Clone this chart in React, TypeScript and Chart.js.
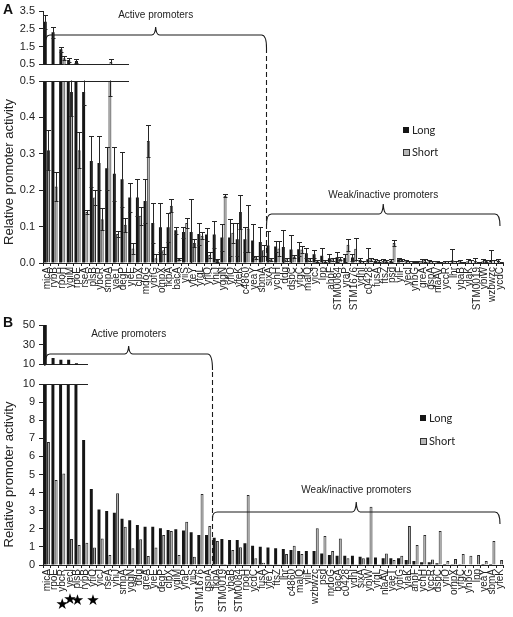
import React, { useEffect, useRef } from 'react';
import { Chart, registerables } from 'chart.js';

Chart.register(...registerables);

const FONT = "'Liberation Sans', Arial, sans-serif";
const TEXT = '#222222';
const AXIS = '#222222';
const BLACK = '#151515';
const GREY = '#a9a9a9';

// ---------------- Panel A data ----------------
const categoriesA = [
  'micA', 'rybB', 'rpoH', 'ygiM', 'rpoE', 'rseA', 'plsB', 'ybcR', 'smpA', 'yaeT',
  'degP', 'yieE', 'clpX', 'mdoG', 'ybfG', 'ompX', 'fkpA', 'bacA', 'yiiS', 'yfeY',
  'yfgL', 'yfiO', 'yhiJ', 'yggN', 'yfiO', 'yfeK', 'c4860', 'yeaY', 'sbmA', 'sixA',
  'ychH', 'ddg', 'dsbC', 'yfgC', 'malQ', 'yicJ', 'lpp', 'ahpF', 'STM0084', 'yraP',
  'STM1676', 'ydhI', 'c0428', 'fusA', 'ftsZ', 'psd', 'yliF', 'yecI', 'yhbG', 'greA',
  'gspA', 'nlaAV', 'yccR', 'lhr', 'ybaB', 'ylaK', 'STM0019', 'ybiW', 'wzbwzc', 'ycdC',
];
const longA = [
  2.9, 2.3, 1.35, 0.75, 0.69, 0.47, 0.28, 0.275, 0.26, 0.245,
  0.23, 0.18, 0.18, 0.17, 0.11, 0.098, 0.098, 0.09, 0.085, 0.085,
  0.08, 0.078, 0.078, 0.07, 0.07, 0.065, 0.065, 0.062, 0.058, 0.048,
  0.045, 0.044, 0.037, 0.038, 0.027, 0.024, 0.02, 0.013, 0.016, 0.014,
  0.015, 0.008, 0.01, 0.006, 0.005, 0.006, 0.01, 0.004, 0.004, 0.005,
  0.004, 0.003, 0.003, 0.007, 0.004, 0.004, 0.005, 0.004, 0.008, 0.006,
];
const longErrA = [
  0.4, 0.3, 0.15, 0.12, 0.1, 0.035, 0.07, 0.075, 0.06, 0.075,
  0.075, 0.04, 0.05, 0.06, 0.055, 0.068, 0.04, 0.01, 0.015, 0.09,
  0.03, 0.017, 0.037, 0.038, 0.05, 0.045, 0.035, 0.045, 0.04, 0.04,
  0.015, 0.046, 0.041, 0.019, 0.013, 0.011, 0.02, 0.012, 0.014, 0.01,
  0.01, 0.007, 0.03, 0.004, 0.005, 0.004, 0.005, 0.003, 0.002, 0.005,
  0.004, 0.002, 0.002, 0.031, 0.005, 0.006, 0.01, 0.006, 0.028, 0.005,
];
const shortA = [
  0.31, 0.21, 0.85, 0.47, 0.31, 0.14, 0.18, 0.12, 0.64, 0.08,
  0.105, 0.04, 0.13, 0.335, 0.013, 0.035, 0.157, 0.012, 0.11, 0.055,
  0.075, 0.022, 0.008, 0.185, 0.083, 0.14, 0.095, 0.015, 0.035, 0.01,
  0.04, 0.01, 0.018, 0.037, 0.01, 0.005, 0.005, 0.01, 0.012, 0.05,
  0.039, 0.003, 0.01, 0.005, 0.005, 0.055, 0.008, 0.003, 0.004, 0.008,
  0.003, 0.002, 0.003, 0.003, 0.002, 0.004, 0.002, 0.006, 0.004, 0.002,
];
const shortErrA = [
  0.055, 0.04, 0.1, 0.065, 0.05, 0.005, 0.02, 0.03, 0.18, 0.008,
  0.02, 0.015, 0.025, 0.045, 0.012, 0.01, 0.018, 0.003, 0.015, 0.012,
  0.01, 0.008, 0.004, 0.005, 0.028, 0.047, 0.065, 0.005, 0.015, 0.005,
  0.02, 0.005, 0.005, 0.01, 0.005, 0.003, 0.003, 0.005, 0.005, 0.017,
  0.03, 0.002, 0.005, 0.003, 0.002, 0.009, 0.003, 0.002, 0.002, 0.004,
  0.002, 0.002, 0.002, 0.002, 0.002, 0.003, 0.002, 0.003, 0.003, 0.002,
];
const ticksAMain = [0, 0.1, 0.2, 0.3, 0.4, 0.5];
const ticksAInset = [0.5, 1.5, 2.5, 3.5];
const activeCountA = 29;

// ---------------- Panel B data ----------------
const categoriesB = [
  'micA', 'rpoE', 'ybcR', 'yecI', 'plsB', 'rybB', 'yfiO', 'yicJ', 'rseA', 'yhiJ',
  'smpA', 'yggN', 'ddg', 'greA', 'yieE', 'degP', 'clpX', 'ygiM', 'yraP', 'yiiS',
  'STM1676', 'gspA', 'fkpA', 'STM0019', 'ybaB', 'STM0084', 'rpoH', 'ycdC', 'fusA', 'yfeY',
  'ftsZ', 'lhr', 'c4860', 'malQ', 'yliF', 'wzbwzc', 'psd', 'mdoG', 'bacA', 'c0428',
  'ydhI', 'sixA', 'ybiW', 'yfgL', 'nlaAV', 'yaeT', 'ybfG', 'ylaK', 'ahpF', 'ychH',
  'yccR', 'dsbC', 'yfiO', 'ompX', 'yfgC', 'yhbG', 'lpp', 'yeaY', 'sbmA', 'yfeK',
];
const longB = [
  50, 16.5, 14.8, 14.8, 11.2, 6.9, 4.2, 3.07, 2.98, 2.88,
  2.56, 2.47, 2.21, 2.12, 2.12, 2.03, 1.93, 1.97, 1.9, 1.81,
  1.66, 1.66, 1.51, 1.44, 1.38, 1.38, 1.2, 1.07, 1.01, 0.97,
  0.92, 0.88, 0.83, 0.77, 0.77, 0.77, 0.64, 0.55, 0.51, 0.51,
  0.51, 0.46, 0.42, 0.42, 0.37, 0.37, 0.37, 0.28, 0.22, 0.15,
  0.15, 0.09, 0.05, 0.04, 0.04, 0.03, 0.03, 0.05, 0.05, 0.03,
];
const shortB = [
  6.8, 4.7, 5.05, 1.43, 1.1, 1.23, 0.97, 1.47, 0.55, 3.96,
  2.12, 0.92, 1.42, 0.5, 0.96, 1.66, 1.88, 0.55, 2.39, 0.46,
  3.92, 2.15, 1.33, 0.05, 0.83, 0.98, 3.87, 0.37, 0.13, 0.02,
  0.02, 0.61, 1.07, 0.61, 0.02, 2.03, 1.6, 0.77, 1.47, 0.37,
  0.02, 0.37, 3.22, 0.02, 0.64, 0.28, 0.51, 2.15, 1.1, 1.66,
  0.31, 1.88, 0.22, 0.33, 0.61, 0.51, 0.55, 0.22, 1.33, 0.28,
];
const ticksBMain = [0, 1, 2, 3, 4, 5, 6, 7, 8, 9, 10];
const ticksBInset = [10, 30, 50];
const activeCountB = 22;
const starredB = [2, 3, 4, 6];

const yTitle = 'Relative promoter activity';
const legendLabels = ['Long', 'Short'];

// ---------------- plugins ----------------
const errorBarPlugin = {
  id: 'errbars',
  afterDatasetsDraw(chart: any) {
    const { ctx, chartArea } = chart;
    const y = chart.scales.y;
    ctx.save();
    ctx.beginPath();
    ctx.rect(chartArea.left, chartArea.top - 0.5, chartArea.right - chartArea.left, chartArea.bottom - chartArea.top + 1);
    ctx.clip();
    ctx.strokeStyle = '#262626';
    ctx.lineWidth = 1;
    chart.data.datasets.forEach((ds: any, di: number) => {
      const errs = ds.errors;
      if (!errs) return;
      const meta = chart.getDatasetMeta(di);
      meta.data.forEach((el: any, i: number) => {
        const v = ds.data[i];
        const e = errs[i];
        if (!e) return;
        const x = Math.round(el.x) + 0.5;
        const yt = Math.round(y.getPixelForValue(v + e)) + 0.5;
        const yb = Math.round(y.getPixelForValue(Math.max(0, v - e))) + 0.5;
        ctx.beginPath();
        ctx.moveTo(x, yt);
        ctx.lineTo(x, yb);
        ctx.moveTo(x - 2.5, yt);
        ctx.lineTo(x + 2.5, yt);
        ctx.moveTo(x - 2, yb);
        ctx.lineTo(x + 2, yb);
        ctx.stroke();
      });
    });
    ctx.restore();
  },
};

function drawBracket(ctx: CanvasRenderingContext2D, x0: number, x1: number, y: number, dl: number, dr: number, bump: number) {
  const xm = (x0 + x1) / 2;
  ctx.beginPath();
  ctx.moveTo(x0, y + dl);
  ctx.quadraticCurveTo(x0, y, x0 + 5, y);
  ctx.lineTo(xm - 4, y);
  ctx.quadraticCurveTo(xm - 0.5, y, xm, y - bump);
  ctx.quadraticCurveTo(xm + 0.5, y, xm + 4, y);
  ctx.lineTo(x1 - 5, y);
  ctx.quadraticCurveTo(x1, y, x1, y + dr);
  ctx.stroke();
}

function drawLegend(ctx: CanvasRenderingContext2D, x: number, y1: number, y2: number) {
  ctx.save();
  ctx.lineWidth = 1;
  ctx.strokeStyle = '#333';
  ctx.fillStyle = BLACK;
  ctx.fillRect(x, y1 - 3, 6, 6);
  ctx.fillStyle = '#b8b8b8';
  ctx.fillRect(x, y2 - 3, 6, 6);
  ctx.strokeRect(x + 0.5, y2 - 2.5, 6, 6);
  ctx.fillStyle = TEXT;
  ctx.font = "11px Lato, 'Open Sans', sans-serif";
  ctx.textAlign = 'left';
  ctx.textBaseline = 'middle';
  ctx.fillText(legendLabels[0], x + 9, y1 + 0.5);
  ctx.fillText(legendLabels[1], x + 9, y2 + 0.5);
  ctx.restore();
}

function overlayPlugin(cfg: {
  id: string; letter: string; letterY: number; activeCount: number; breakX: number;
  activeY: number; activeTextY: number; activeDrop: number; dashTop: number;
  weakY: number; weakTextY: number; weakDropL: number; weakDropR: number;
  legendX: number; legendY1: number; legendY2: number; stars?: number[];
}) {
  return {
    id: cfg.id,
    afterDraw(chart: any) {
      const { ctx, chartArea } = chart;
      const xs = chart.scales.x;
      const n = chart.data.labels.length;
      const dashX = Math.round((xs.getPixelForValue(cfg.activeCount - 1) + xs.getPixelForValue(cfg.activeCount)) / 2) + 0.5;
      const x0 = xs.getPixelForValue(0) - 2;
      const xEnd = xs.getPixelForValue(n - 1);
      ctx.save();
      // panel letter
      ctx.fillStyle = '#111';
      ctx.font = `bold 14px ${FONT}`;
      ctx.textAlign = 'left';
      ctx.textBaseline = 'middle';
      ctx.fillText(cfg.letter, 3, cfg.letterY);
      // break line
      ctx.strokeStyle = AXIS;
      ctx.lineWidth = 1;
      ctx.beginPath();
      ctx.moveTo(chartArea.left, chartArea.top + 0.5);
      ctx.lineTo(cfg.breakX, chartArea.top + 0.5);
      ctx.stroke();
      // brackets
      ctx.lineWidth = 1.1;
      ctx.strokeStyle = '#1a1a1a';
      drawBracket(ctx, x0, dashX, cfg.activeY, 12, cfg.activeDrop, 8);
      drawBracket(ctx, dashX, xEnd, cfg.weakY, cfg.weakDropL, cfg.weakDropR, 10);
      // dashed separator
      ctx.setLineDash([5, 3]);
      ctx.beginPath();
      ctx.moveTo(dashX, cfg.dashTop);
      ctx.lineTo(dashX, chartArea.bottom);
      ctx.stroke();
      ctx.setLineDash([]);
      // bracket texts
      ctx.fillStyle = TEXT;
      ctx.font = `10px ${FONT}`;
      ctx.textAlign = 'center';
      ctx.fillText('Active promoters', (x0 + dashX) / 2, cfg.activeTextY);
      ctx.fillText('Weak/inactive promoters', (dashX + xEnd) / 2, cfg.weakTextY);
      drawLegend(ctx, cfg.legendX, cfg.legendY1, cfg.legendY2);
      if (cfg.stars) {
        ctx.fillStyle = '#000';
        ctx.font = "15px 'DejaVu Sans', sans-serif";
        ctx.textAlign = 'center';
        const yOff = [295, 290, 291, 291];
        cfg.stars.forEach((idx, k) => {
          ctx.fillText('\u2605', xs.getPixelForValue(idx), yOff[k] ?? 291);
        });
      }
      ctx.restore();
    },
  };
}

function makeChart(canvas: HTMLCanvasElement, o: any) {
  return new Chart(canvas, {
    type: 'bar',
    data: {
      labels: o.labels,
      datasets: [
        {
          label: legendLabels[0], data: o.long, errors: o.longErr,
          backgroundColor: BLACK, borderColor: BLACK, borderWidth: 0,
          categoryPercentage: 0.84, barPercentage: 0.92,
        } as any,
        {
          label: legendLabels[1], data: o.short, errors: o.shortErr,
          backgroundColor: GREY, borderColor: '#2a2a2a', borderWidth: 1,
          categoryPercentage: 0.84, barPercentage: 0.92,
        } as any,
      ],
    },
    options: {
      responsive: false,
      maintainAspectRatio: false,
      animation: false,
      layout: { padding: { top: o.padTop, right: 2, left: 0, bottom: 0 }, autoPadding: false } as any,
      plugins: { legend: { display: false }, tooltip: { enabled: false }, title: { display: false } },
      scales: {
        x: {
          type: 'category',
          offset: true,
          grid: { display: o.showX, drawOnChartArea: false, offset: true, tickLength: 3, color: AXIS, lineWidth: 1 },
          border: { display: true, color: AXIS, width: 1 },
          ticks: {
            display: o.showX, autoSkip: false, minRotation: 90, maxRotation: 90, padding: 1,
            color: TEXT, font: { family: FONT, size: 10 },
          },
          afterFit: (s: any) => { s.height = o.xHeight; },
        },
        y: {
          type: 'linear',
          min: o.min,
          max: o.max,
          grid: { display: true, drawOnChartArea: false, tickLength: 4, color: AXIS },
          border: { display: true, color: AXIS, width: 1 },
          ticks: { padding: 4, color: TEXT, font: { family: FONT, size: 11 }, callback: (v: any) => o.fmt(Number(v)) },
          afterBuildTicks: (s: any) => { s.ticks = o.ticks.map((v: number) => ({ value: v })); },
          afterFit: (s: any) => { s.width = 43; },
          title: o.title
            ? { display: true, text: o.title, color: TEXT, font: { family: FONT, size: 13 }, padding: { top: 2, bottom: 0 } }
            : { display: false },
        },
      },
    } as any,
    plugins: [errorBarPlugin, ...(o.extra || [])],
  });
}

export default function App() {
  const aMain = useRef<HTMLCanvasElement>(null);
  const aInset = useRef<HTMLCanvasElement>(null);
  const bMain = useRef<HTMLCanvasElement>(null);
  const bInset = useRef<HTMLCanvasElement>(null);

  useEffect(() => {
    Chart.defaults.font.family = FONT;
    const charts: Chart[] = [];
    const fmt1 = (v: number) => v.toFixed(1);
    const fmt0 = (v: number) => String(Math.round(v));

    charts.push(makeChart(aMain.current!, {
      labels: categoriesA, long: longA, short: shortA, longErr: longErrA, shortErr: shortErrA,
      min: 0, max: 0.5, ticks: ticksAMain, fmt: fmt1, padTop: 81, xHeight: 49, showX: true, title: yTitle,
      extra: [overlayPlugin({
        id: 'ovA', letter: 'A', letterY: 10, activeCount: activeCountA, breakX: 129,
        activeY: 35, activeTextY: 15, activeDrop: 13, dashTop: 48,
        weakY: 214, weakTextY: 195, weakDropL: 11, weakDropR: 12,
        legendX: 403, legendY1: 130, legendY2: 152,
      })],
    }));
    charts.push(makeChart(aInset.current!, {
      labels: categoriesA, long: longA, short: shortA, longErr: longErrA, shortErr: shortErrA,
      min: 0.5, max: 3.5, ticks: ticksAInset, fmt: fmt1, padTop: 11, xHeight: 7, showX: false,
    }));
    charts.push(makeChart(bMain.current!, {
      labels: categoriesB, long: longB, short: shortB,
      min: 0, max: 10, ticks: ticksBMain, fmt: fmt0, padTop: 74, xHeight: 52, showX: true, title: yTitle,
      extra: [overlayPlugin({
        id: 'ovB', letter: 'B', letterY: 13, activeCount: activeCountB, breakX: 88,
        activeY: 44, activeTextY: 24, activeDrop: 16, dashTop: 62,
        weakY: 202, weakTextY: 180, weakDropL: 6, weakDropR: 12,
        legendX: 420, legendY1: 108, legendY2: 131, stars: starredB,
      })],
    }));
    charts.push(makeChart(bInset.current!, {
      labels: categoriesB, long: longB, short: shortB,
      min: 10, max: 50, ticks: ticksBInset, fmt: fmt0, padTop: 15, xHeight: 7, showX: false,
    }));
    return () => { charts.forEach((c) => c.destroy()); };
  }, []);

  const abs = (l: number, t: number): React.CSSProperties => ({ position: 'absolute', left: l, top: t });
  return (
    <div style={{ position: 'absolute', left: 0, top: 0, width: 513, height: 617, background: '#fff', overflow: 'hidden' }}>
      <canvas ref={aMain} width={513} height={312} style={{ ...abs(0, 0), width: 513, height: 312 }} />
      <canvas ref={bMain} width={513} height={307} style={{ ...abs(0, 310), width: 513, height: 307 }} />
      <div style={{ ...abs(0, 0), width: 129, height: 75, overflow: 'hidden' }}>
        <canvas ref={aInset} width={513} height={75} style={{ ...abs(0, 0), width: 513, height: 75 }} />
      </div>
      <div style={{ ...abs(0, 310), width: 88, height: 65, overflow: 'hidden' }}>
        <canvas ref={bInset} width={513} height={65} style={{ ...abs(0, 0), width: 513, height: 65 }} />
      </div>
    </div>
  );
}
